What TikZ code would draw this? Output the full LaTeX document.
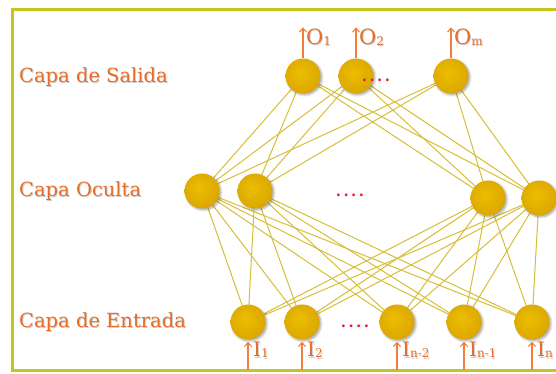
\documentclass[tikz,border=0pt]{standalone}
\usepackage{fontspec}
\setmainfont{DejaVu Serif}
\usetikzlibrary{arrows.meta,backgrounds,shadows.blur}
\definecolor{frameC}{RGB}{200,196,30}
\definecolor{edgeC}{RGB}{214,190,55}
\definecolor{txtC}{RGB}{230,108,40}
\definecolor{arrC}{RGB}{245,125,60}
\definecolor{dotC}{RGB}{240,20,60}
\definecolor{gA}{RGB}{236,190,0}
\definecolor{gB}{RGB}{218,165,0}
\definecolor{gC}{RGB}{176,130,0}
\definecolor{gD}{RGB}{110,82,0}
\pgfdeclareradialshading{goldball}{\pgfpoint{-5bp}{5bp}}{%
  color(0bp)=(gA); color(30bp)=(gB); color(44bp)=(gC); color(50bp)=(gD); color(60bp)=(gD)}
\newcommand{\sbs}[1]{\raisebox{-1pt}{\fontsize{12}{12}\selectfont #1}}
\tikzset{
  neuron/.style={circle, minimum size=35pt, inner sep=0pt, shading=goldball,
    blur shadow={shadow xshift=1.5pt, shadow yshift=-1.5pt, shadow blur steps=6, shadow opacity=35}},
  link/.style={draw=edgeC, line width=1pt},
  sig/.style={draw=arrC, line width=1.1pt, -{Straight Barb[length=4pt,width=7pt]}},
  layerlbl/.style={text=txtC, anchor=west, inner sep=0pt, font=\fontsize{19.5}{20}\selectfont},
  outlbl/.style={text=txtC, anchor=west, inner sep=0pt, font=\fontsize{21}{22}\selectfont},
  inlbl/.style={text=txtC, anchor=west, inner sep=0pt, font=\fontsize{20}{22}\selectfont},
  dotslbl/.style={text=dotC, inner sep=0pt, font=\bfseries\fontsize{15}{15}\selectfont},
  shd/.style={text=black!30, opacity=0.6}
}
\newcommand{\fourdots}{.\kern2.5pt.\kern2.5pt.\kern2.5pt.}
\begin{document}
\begin{tikzpicture}[x=1pt,y=-1pt]
\clip (0,0) rectangle (556,373);
\draw[frameC, line width=3pt] (570,9) -- (12,9) -- (12,370) -- (570,370);

% layer labels (with soft shadow)
\foreach \yy/\tt in {77/Capa de Salida,191/Capa Oculta,322/Capa de Entrada}{
  \node[layerlbl, shd] at (20,\yy+1.5) {\tt};
}
\node[layerlbl] (ls) at (19,77) {Capa de Salida};
\node[layerlbl] (lh) at (19,191) {Capa Oculta};
\node[layerlbl] (li) at (19,322) {Capa de Entrada};

% output layer
\node[neuron] (o1) at (303,76) {};
\node[neuron] (o2) at (356,76) {};
\node[neuron] (o3) at (451,76) {};
% hidden layer
\node[neuron] (h1) at (202,191) {};
\node[neuron] (h2) at (255,191) {};
\node[neuron] (h3) at (488,198) {};
\node[neuron] (h4) at (539,198) {};
% input layer
\node[neuron] (i1) at (248,322) {};
\node[neuron] (i2) at (302,322) {};
\node[neuron] (i3) at (397,322) {};
\node[neuron] (i4) at (464,322) {};
\node[neuron] (i5) at (532,322) {};

\begin{pgfonlayer}{background}
\foreach \o in {o1,o2,o3}{\foreach \h in {h1,h2,h3,h4}{\draw[link] (\o) -- (\h);}}
\foreach \h in {h1,h2,h3,h4}{\foreach \i in {i1,i2,i3,i4,i5}{\draw[link] (\h) -- (\i);}}
\end{pgfonlayer}

% dots
\node[dotslbl] (d1) at (376,80) {\fourdots};
\node[dotslbl] (d2) at (350,195) {\fourdots};
\node[dotslbl] (d3) at (355,326) {\fourdots};

% outputs
\foreach \n/\lab in {o1/1,o2/2,o3/m}{
  \coordinate (\n t) at ([yshift=31pt]\n.north);
  \draw[sig] (\n.north) -- (\n t);
  \node[outlbl, shd] at ([xshift=4pt,yshift=-11pt]\n t) {O\sbs{\lab}};
  \node[outlbl] (\n l) at ([xshift=3pt,yshift=-9.5pt]\n t) {O\sbs{\lab}};
}
% inputs
\foreach \n/\lab in {i1/1,i2/2,i3/n-2,i4/n-1,i5/n}{
  \coordinate (\n b) at (\n.south |- 0,370);
  \draw[sig] (\n b) -- ([yshift=-2pt]\n.south);
  \node[inlbl, shd] at ([xshift=6pt,yshift=18.5pt]\n b) {I\sbs{\lab}};
  \node[inlbl] (\n l) at ([xshift=5pt,yshift=20pt]\n b) {I\sbs{\lab}};
}
\end{tikzpicture}
\end{document}
